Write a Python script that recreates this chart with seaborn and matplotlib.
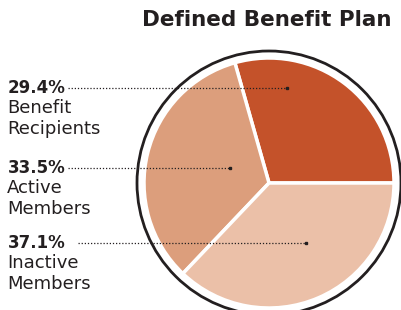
import matplotlib.pyplot as plt
import seaborn as sns
from matplotlib.patches import Circle

# Datos del gráfico
categorias = ["Benefit\nRecipients", "Active\nMembers", "Inactive\nMembers"]
porcentajes = [29.4, 33.5, 37.1]
titulo = "Defined Benefit Plan"

sns.set_theme(style="white")
plt.rcParams['font.family'] = ['DejaVu Sans']

colores = ["#C4522A", "#DC9E7C", "#EBC0A8"]
texto = "#231F20"

fig = plt.figure(figsize=(4.02, 3.10), dpi=100)
ax = fig.add_axes([0, 0, 1, 1])
ax.set_xlim(0, 402)
ax.set_ylim(0, 310)
ax.set_aspect("equal")
ax.axis("off")

# Pastel con bordes blancos
cx, cy = 269, 127
ax.pie(porcentajes, colors=colores, startangle=0, counterclock=True,
       center=(cx, cy), radius=125,
       wedgeprops=dict(edgecolor="white", linewidth=2.5))
ax.add_patch(Circle((cx, cy), 132, facecolor="none", edgecolor=texto, linewidth=2, zorder=3))
ax.set_xlim(0, 402)
ax.set_ylim(0, 310)

# Etiquetas a la izquierda con líneas punteadas
ys = [222, 142, 67]
inicio_linea = [68, 68, 78]
fin_linea = [287, 230, 306]
for cat, pct, y, x0, x1 in zip(categorias, porcentajes, ys, inicio_linea, fin_linea):
    ax.text(8, y, f"{pct:.1f}%", fontsize=12, fontweight="bold", color=texto,
            va="center", ha="left")
    ax.text(7, y - 11.5, cat, fontsize=13, color=texto, va="top", ha="left",
            linespacing=1.2)
    ax.plot([x0, x1], [y, y], linestyle=(0, (1, 1.5)), color=texto, linewidth=0.9, zorder=4)
    ax.plot([x1], [y], marker="s", markersize=2, color=texto, zorder=4)

ax.text(267, 290, titulo, fontsize=15.5, fontweight="bold", color=texto,
        ha="center", va="center")

fig.savefig("out.png", dpi=100)
